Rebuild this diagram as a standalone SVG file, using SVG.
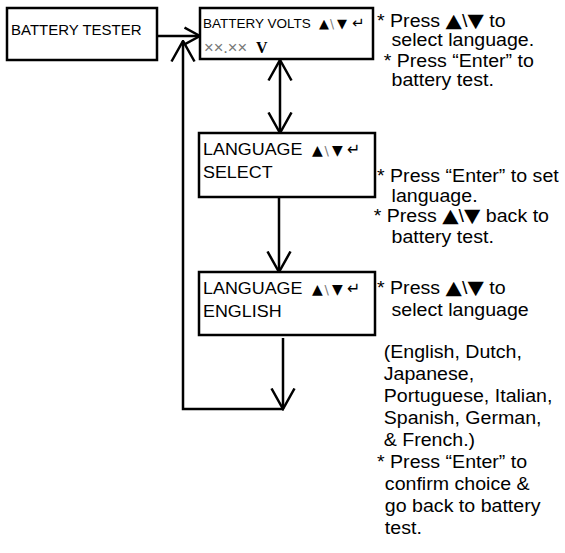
<svg xmlns="http://www.w3.org/2000/svg" width="565" height="553" viewBox="0 0 565 553">
  <style>
    .box { fill: #fff; stroke: #000; stroke-width: 2.5; }
    .lbl { font-family: "Liberation Sans", Arial, sans-serif; fill: #000; }
    .note { font-family: "Liberation Sans", Arial, sans-serif; font-size: 17.5px; fill: #000; }
    .sym { font-family: "DejaVu Sans", sans-serif; fill: #000; }
    .nsym { font-family: "DejaVu Sans", sans-serif; font-size: 19px; }
    .gray { fill: #777; }
    .wire { fill: none; stroke: #000; stroke-width: 2.5; }
  </style>
  <defs>
    <marker id="v" viewBox="0 0 23 26" refX="21.5" refY="13" markerWidth="23" markerHeight="26" markerUnits="userSpaceOnUse" orient="auto-start-reverse">
      <path d="M1,1.5 L21.5,13 L1,24.5" fill="none" stroke="#000" stroke-width="2.5"/>
    </marker>
    <marker id="vs" viewBox="0 0 18 20" refX="16.5" refY="10" markerWidth="18" markerHeight="20" markerUnits="userSpaceOnUse" orient="auto">
      <path d="M1,1.5 L16.5,10 L1,18.5" fill="none" stroke="#000" stroke-width="2.5"/>
    </marker>
  </defs>

  <!-- connectors -->
  <g id="connectors">
    <line class="wire" x1="157" y1="36" x2="200" y2="36" marker-end="url(#vs)"/>
    <polyline class="wire" points="283,409 183,409 183,41" marker-end="url(#v)"/>
    <line class="wire" x1="280" y1="60" x2="280" y2="133" marker-start="url(#v)" marker-end="url(#v)"/>
    <line class="wire" x1="279" y1="197" x2="279" y2="272" marker-end="url(#v)"/>
    <line class="wire" x1="283" y1="338" x2="283" y2="409" marker-end="url(#v)"/>
  </g>

  <!-- start screen -->
  <g id="battery-tester">
    <rect class="box" x="7" y="8" width="150" height="52"/>
    <text class="lbl" x="11" y="35" font-size="15">BATTERY TESTER</text>
  </g>

  <!-- battery volts screen -->
  <g id="battery-volts">
    <rect class="box" x="200" y="8" width="173" height="51"/>
    <text class="lbl" x="203" y="28" font-size="13.5">BATTERY VOLTS</text>
    <text class="sym" y="28"><tspan x="319" font-size="13">▲</tspan><tspan x="330" class="gray" font-size="12">\</tspan><tspan x="337" font-size="13">▼</tspan><tspan x="352" font-size="15">↵</tspan></text>
    <text class="lbl gray" x="204" y="53" font-size="16.5">××.××</text>
    <text x="256" y="53" font-family="Liberation Serif, serif" font-weight="bold" font-size="16">V</text>
  </g>

  <!-- language select screen -->
  <g id="language-select">
    <rect class="box" x="199" y="133" width="176" height="64"/>
    <g transform="translate(203,0) scale(1.12,1) translate(-203,0)">
      <text class="lbl" x="203" y="155" font-size="16">LANGUAGE</text>
      <text class="lbl" x="203" y="178" font-size="16">SELECT</text>
    </g>
    <text class="sym" y="155"><tspan x="312" font-size="14">▲</tspan><tspan x="324.5" class="gray" font-size="13">\</tspan><tspan x="332" font-size="14">▼</tspan><tspan x="347" font-size="16">↵</tspan></text>
  </g>

  <!-- language choice screen -->
  <g id="language-english">
    <rect class="box" x="199" y="272" width="176" height="63"/>
    <g transform="translate(203,0) scale(1.12,1) translate(-203,0)">
      <text class="lbl" x="203" y="294" font-size="16">LANGUAGE</text>
      <text class="lbl" x="203" y="317" font-size="16">ENGLISH</text>
    </g>
    <text class="sym" y="294"><tspan x="312" font-size="14">▲</tspan><tspan x="324.5" class="gray" font-size="13">\</tspan><tspan x="332" font-size="14">▼</tspan><tspan x="347" font-size="16">↵</tspan></text>
  </g>

  <!-- side notes, set slightly wide -->
  <g transform="translate(377,0) scale(1.12,1) translate(-377,0)">
    <g id="notes-volts" class="note">
      <text x="377" y="27">* Press <tspan class="nsym">▲</tspan>\<tspan class="nsym">▼</tspan> to</text>
      <text x="390" y="46">select language.</text>
      <text x="383" y="67">* Press “Enter” to</text>
      <text x="390" y="86">battery test.</text>
    </g>
    <g id="notes-select" class="note">
      <text x="377" y="182">* Press “Enter” to set</text>
      <text x="390" y="202">language.</text>
      <text x="374" y="222">* Press <tspan class="nsym">▲</tspan>\<tspan class="nsym">▼</tspan> back to</text>
      <text x="390" y="243">battery test.</text>
    </g>
    <g id="notes-english" class="note">
      <text x="377" y="294">* Press <tspan class="nsym">▲</tspan>\<tspan class="nsym">▼</tspan> to</text>
      <text x="390" y="316">select language</text>
      <text x="383" y="358">(English, Dutch,</text>
      <text x="383" y="380">Japanese,</text>
      <text x="383" y="402">Portuguese, Italian,</text>
      <text x="383" y="424">Spanish, German,</text>
      <text x="383" y="446">&amp; French.)</text>
      <text x="377" y="468">* Press “Enter” to</text>
      <text x="384" y="490">confirm choice &amp;</text>
      <text x="384" y="512">go back to battery</text>
      <text x="384" y="534">test.</text>
    </g>
  </g>
</svg>
